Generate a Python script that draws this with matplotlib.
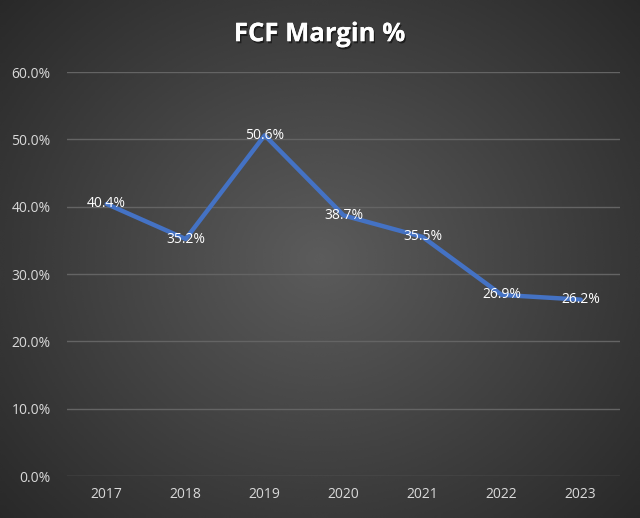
import numpy as np
import matplotlib.pyplot as plt
import matplotlib.patheffects as pe
from matplotlib.ticker import PercentFormatter

years = ["2017", "2018", "2019", "2020", "2021", "2022", "2023"]
fcf_margin = [40.4, 35.2, 50.6, 38.7, 35.5, 26.9, 26.2]
y_ticks = [0, 10, 20, 30, 40, 50, 60]

plt.rcParams['font.family'] = ['Open Sans', 'DejaVu Sans']

fig = plt.figure(figsize=(6.4, 5.18), dpi=100)

# dark radial gradient background like the excel chart style
bg = fig.add_axes([0, 0, 1, 1], zorder=0)
yy, xx = np.mgrid[-1:1:300j, -1:1:300j]
r = np.sqrt(xx ** 2 + (yy * 0.9) ** 2)
shade = 0.36 - 0.2 * np.clip(r / 1.35, 0, 1)
bg.imshow(shade, cmap='gray', vmin=0, vmax=1, aspect='auto',
          extent=[0, 1, 0, 1], interpolation='bicubic')
bg.axis('off')

ax = fig.add_axes([0.105, 0.081, 0.864, 0.78], zorder=1)
ax.patch.set_alpha(0)

x = np.arange(len(years))
ax.plot(x, fcf_margin, color='#4472C4', lw=3.2, solid_capstyle='round',
        solid_joinstyle='round', zorder=3)
for xi, v in zip(x, fcf_margin):
    ax.text(xi, v, f"{v:.1f}%", ha='center', va='center', color='white',
            fontsize=10, zorder=4)

ax.set_xlim(-0.5, len(years) - 0.5)
ax.set_ylim(0, 60)
ax.set_yticks(y_ticks)
ax.yaxis.set_major_formatter(PercentFormatter(decimals=1))
ax.set_xticks(x)
ax.set_xticklabels(years)
ax.grid(axis='y', color='#646464', lw=1)
ax.set_axisbelow(True)
for s in ax.spines.values():
    s.set_visible(False)
ax.tick_params(length=0, colors='#d9d9d9', labelsize=10)
ax.tick_params(axis='y', pad=12)
ax.tick_params(axis='x', pad=8)

fig.text(0.5, 0.935, "FCF Margin %", ha='center', va='center', color='white',
         fontsize=18.5, fontweight='bold',
         path_effects=[pe.withSimplePatchShadow(offset=(1, -1.5), shadow_rgbFace='black', alpha=0.5),
                       pe.Normal()])

fig.savefig('out.png', dpi=100)
